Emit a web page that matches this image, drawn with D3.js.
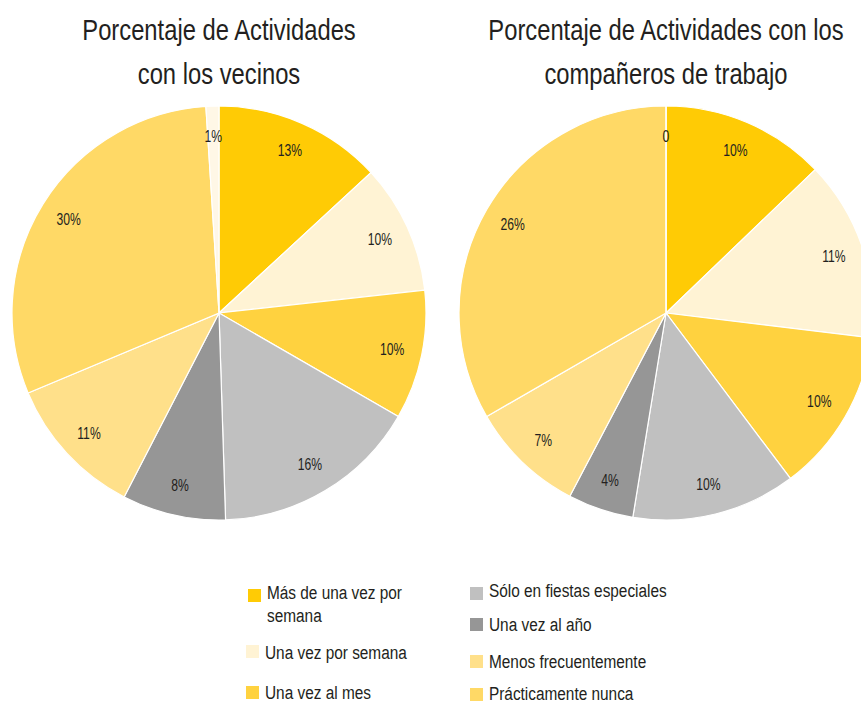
<!DOCTYPE html>
<html>
<head>
<meta charset="utf-8">
<script src="https://cdn.jsdelivr.net/npm/d3@7"></script>
<style>
  html, body { margin: 0; padding: 0; background: #fff; }
  svg { display: block; }
  text { font-family: "Liberation Sans", Arial, sans-serif; fill: #231f20; }
</style>
</head>
<body>
<svg id="chart" width="861" height="705"></svg>
<script>
const categories = [
  "Más de una vez por semana",
  "Una vez por semana",
  "Una vez al mes",
  "Sólo en fiestas especiales",
  "Una vez al año",
  "Menos frecuentemente",
  "Prácticamente nunca",
  "Sin respuesta"
];
const colors = ["#FFCB05", "#FFF3D4", "#FFD23F", "#C0C0C0", "#969696", "#FFE08A", "#FFD966", "#FFF7E6"];
const vecinosValues = [13, 10, 10, 16, 8, 11, 30, 1];
const vecinosLabels = ["13%", "10%", "10%", "16%", "8%", "11%", "30%", "1%"];
const trabajoValues = [10, 11, 10, 10, 4, 7, 26, 0];
const trabajoLabels = ["10%", "11%", "10%", "10%", "4%", "7%", "26%", "0"];
const titles = [
  ["Porcentaje de Actividades", "con los vecinos"],
  ["Porcentaje de Actividades con los", "compañeros de trabajo"]
];
const legendLines = [
  ["Más de una vez por", "semana"],
  ["Una vez por semana"],
  ["Una vez al mes"],
  ["Sólo en fiestas especiales"],
  ["Una vez al año"],
  ["Menos frecuentemente"],
  ["Prácticamente nunca"]
];

const svg = d3.select("#chart");
const color = d3.scaleOrdinal().domain(categories).range(colors);
const R = 207;
const labelR = 177;
const pie = d3.pie().sort(null).value(d => d.value).startAngle(0).endAngle(2 * Math.PI);
const arc = d3.arc().innerRadius(0).outerRadius(R);

// condensed text helper (horizontal squeeze to mimic a condensed face)
function ctext(parent, x, y, str, size, sx, anchor) {
  return parent.append("text")
    .attr("transform", `translate(${x},${y}) scale(${sx},1)`)
    .attr("text-anchor", anchor || "start")
    .attr("font-size", size)
    .text(str);
}

function drawPie(cx, cy, values, labels, title) {
  const data = categories.map((c, i) => ({ cat: c, value: values[i], label: labels[i] }));
  const g = svg.append("g").attr("transform", `translate(${cx},${cy})`);
  const arcs = pie(data);
  g.selectAll("path").data(arcs).join("path")
    .attr("d", arc)
    .attr("fill", d => color(d.data.cat))
    .attr("stroke", "#fff")
    .attr("stroke-width", 1.2);
  arcs.forEach(d => {
    const a = (d.startAngle + d.endAngle) / 2;
    ctext(g, Math.sin(a) * labelR, -Math.cos(a) * labelR + 5.5, d.data.label, 16, 0.76, "middle");
  });
  ctext(svg, cx, 40, title[0], 29, 0.82, "middle");
  ctext(svg, cx, 84, title[1], 29, 0.82, "middle");
}

drawPie(219, 313, vecinosValues, vecinosLabels, titles[0]);
drawPie(666, 313, trabajoValues, trabajoLabels, titles[1]);

// Legend layout (square x, square top, text x, baseline)
const legendPos = [
  [248, 589, 267, 599],
  [246, 645, 265, 659],
  [246, 686, 265, 699],
  [470, 587, 489, 597],
  [470, 618, 489, 631],
  [470, 655, 489, 668],
  [470, 688, 489, 700]
];
const lg = svg.append("g");
legendLines.forEach((lines, i) => {
  const [sx, sy, tx, ty] = legendPos[i];
  lg.append("rect")
    .attr("x", sx).attr("y", sy)
    .attr("width", 13).attr("height", 13)
    .attr("fill", color(categories[i]));
  lines.forEach((ln, k) => ctext(lg, tx, ty + k * 23, ln, 19, 0.81));
});
</script>
</body>
</html>
